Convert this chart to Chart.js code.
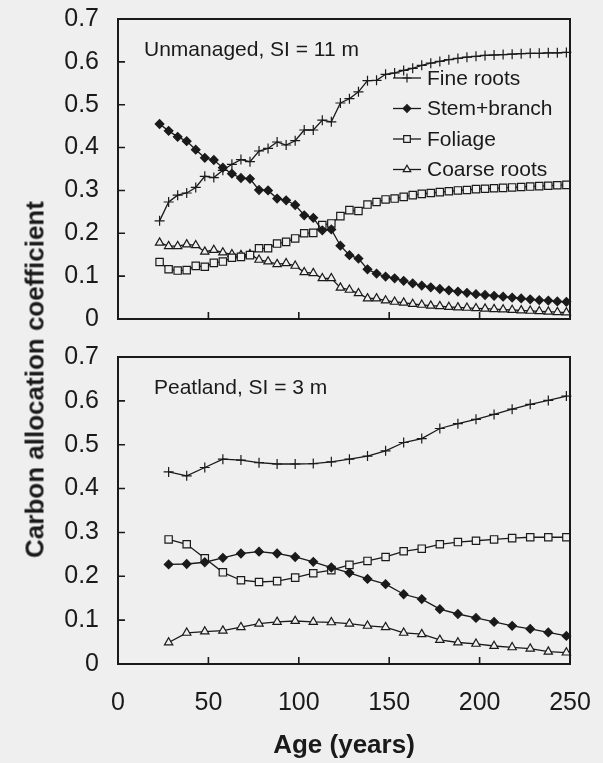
<!DOCTYPE html>
<html>
<head>
<meta charset="utf-8">
<script src="https://cdn.jsdelivr.net/npm/chart.js@4/dist/chart.umd.min.js"></script>
<style>
  body { margin: 0; background: #efefef; }
  #wrap { position: relative; width: 603px; height: 763px; }
  #top { position: absolute; left: 0; top: 0; }
  #bottom { position: absolute; left: 0; top: 340px; }
  #ytitle {
    position: absolute; left: -165px; top: 364px; width: 400px;
    text-align: center; transform: rotate(-90deg);
    font: bold 26px "Liberation Sans", Arial, sans-serif; color: #1a1a1a;
  }
</style>
</head>
<body>
<div id="wrap">
  <canvas id="top" width="603" height="340"></canvas>
  <canvas id="bottom" width="603" height="423"></canvas>
  <div id="ytitle">Carbon allocation coefficient</div>
</div>
<script>
// top panel: unmanaged, SI = 11 m (every 5 years)
const topAges = [23, 28, 33, 38, 43, 48, 53, 58, 63, 68, 73, 78, 83, 88, 93, 98, 103, 108, 113, 118, 123, 128, 133, 138, 143, 148, 153, 158, 163, 168, 173, 178, 183, 188, 193, 198, 203, 208, 213, 218, 223, 228, 233, 238, 243, 248];
const topFine = [0.229, 0.273, 0.289, 0.294, 0.307, 0.333, 0.330, 0.347, 0.361, 0.372, 0.367, 0.392, 0.398, 0.413, 0.406, 0.416, 0.441, 0.441, 0.464, 0.460, 0.504, 0.514, 0.530, 0.556, 0.557, 0.571, 0.574, 0.580, 0.585, 0.592, 0.597, 0.601, 0.605, 0.608, 0.611, 0.613, 0.615, 0.616, 0.617, 0.618, 0.619, 0.620, 0.620, 0.621, 0.621, 0.622];
const topStem = [0.455, 0.439, 0.425, 0.415, 0.395, 0.376, 0.371, 0.353, 0.339, 0.329, 0.327, 0.301, 0.300, 0.281, 0.277, 0.266, 0.242, 0.236, 0.207, 0.209, 0.171, 0.149, 0.141, 0.116, 0.106, 0.099, 0.095, 0.089, 0.083, 0.078, 0.074, 0.070, 0.067, 0.064, 0.061, 0.058, 0.056, 0.054, 0.052, 0.050, 0.048, 0.046, 0.044, 0.043, 0.041, 0.040];
const topFoliage = [0.133, 0.116, 0.113, 0.114, 0.124, 0.122, 0.131, 0.134, 0.143, 0.145, 0.149, 0.165, 0.165, 0.176, 0.180, 0.188, 0.200, 0.201, 0.219, 0.223, 0.240, 0.254, 0.252, 0.267, 0.273, 0.279, 0.281, 0.285, 0.289, 0.292, 0.294, 0.296, 0.298, 0.300, 0.301, 0.303, 0.304, 0.305, 0.306, 0.307, 0.308, 0.309, 0.310, 0.311, 0.312, 0.313];
const topCoarse = [0.178, 0.170, 0.170, 0.174, 0.172, 0.157, 0.161, 0.155, 0.151, 0.149, 0.151, 0.138, 0.134, 0.128, 0.130, 0.124, 0.109, 0.107, 0.095, 0.095, 0.073, 0.068, 0.060, 0.048, 0.048, 0.043, 0.040, 0.038, 0.035, 0.033, 0.031, 0.030, 0.028, 0.027, 0.026, 0.025, 0.024, 0.023, 0.022, 0.021, 0.020, 0.019, 0.018, 0.017, 0.016, 0.015];

// bottom panel: peatland, SI = 3 m (every 10 years)
const botAges = [28, 38, 48, 58, 68, 78, 88, 98, 108, 118, 128, 138, 148, 158, 168, 178, 188, 198, 208, 218, 228, 238, 248];
const botFine = [0.438, 0.429, 0.448, 0.467, 0.465, 0.459, 0.456, 0.456, 0.457, 0.461, 0.467, 0.474, 0.486, 0.505, 0.514, 0.537, 0.548, 0.558, 0.569, 0.581, 0.592, 0.601, 0.611];
const botStem = [0.227, 0.228, 0.232, 0.242, 0.252, 0.256, 0.252, 0.244, 0.233, 0.220, 0.208, 0.194, 0.182, 0.159, 0.148, 0.125, 0.114, 0.105, 0.096, 0.087, 0.080, 0.072, 0.064];
const botFoliage = [0.284, 0.273, 0.241, 0.209, 0.191, 0.187, 0.189, 0.197, 0.207, 0.214, 0.226, 0.235, 0.244, 0.257, 0.263, 0.273, 0.278, 0.281, 0.284, 0.287, 0.289, 0.289, 0.289];
const botCoarse = [0.049, 0.071, 0.074, 0.076, 0.084, 0.092, 0.096, 0.098, 0.096, 0.095, 0.092, 0.087, 0.084, 0.071, 0.068, 0.055, 0.049, 0.046, 0.041, 0.038, 0.035, 0.028, 0.026];

const seriesNames = ["Fine roots", "Stem+branch", "Foliage", "Coarse roots"];
const xTickMarks = [50, 100, 150, 200];
const yTickMarks = [0.1, 0.2, 0.3, 0.4, 0.5, 0.6];

const ink = '#1a1a1a';
const bg = '#efefef';
const font = '"Liberation Sans", Arial, sans-serif';

const styles = [
    { pointStyle: 'cross', pointRadius: 5, pointBackgroundColor: ink },
    { pointStyle: 'rectRot', pointRadius: 4.3, pointBackgroundColor: ink },
    { pointStyle: 'rect', pointRadius: 5.2, pointBackgroundColor: bg },
    { pointStyle: 'triangle', pointRadius: 4.8, pointBackgroundColor: bg },
];

function makeSets(ages, cols) {
    return cols.map((col, i) => Object.assign({
        label: seriesNames[i],
        data: ages.map((a, j) => ({ x: a, y: col[j] })),
        borderColor: ink,
        borderWidth: 1.3,
        pointBorderColor: ink,
        pointBorderWidth: 1.2,
        tension: 0,
        clip: false,
    }, styles[i]));
}

// box, inward ticks, panel label and in-plot legend
const framePlugin = {
    id: 'frame',
    afterDatasetsDraw(chart, args, opts) {
        const { ctx, chartArea: a } = chart;
        const x = chart.scales.x, y = chart.scales.y;
        ctx.save();
        ctx.strokeStyle = ink;
        ctx.lineWidth = 2;
        ctx.strokeRect(a.left, a.top, a.right - a.left, a.bottom - a.top);
        ctx.lineWidth = 1.6;
        ctx.beginPath();
        yTickMarks.forEach(v => {
            const py = y.getPixelForValue(v);
            ctx.moveTo(a.left, py); ctx.lineTo(a.left + 7, py);
        });
        xTickMarks.forEach(v => {
            const px = x.getPixelForValue(v);
            ctx.moveTo(px, a.bottom); ctx.lineTo(px, a.bottom - 7);
        });
        ctx.stroke();

        ctx.fillStyle = ink;
        ctx.font = '21px ' + font;
        ctx.textBaseline = 'middle';
        ctx.fillText(opts.label, a.left + opts.lx, a.top + opts.ly);

        if (opts.legend) {
            chart.data.datasets.forEach((ds, i) => {
                const ly = a.top + 59 + i * 30.5;
                const lx = a.left + 275;
                ctx.strokeStyle = ink;
                ctx.lineWidth = 1.3;
                ctx.beginPath();
                ctx.moveTo(lx, ly); ctx.lineTo(lx + 28, ly);
                ctx.stroke();
                ctx.fillStyle = ds.pointBackgroundColor;
                ctx.lineWidth = 1.2;
                Chart.helpers.drawPoint(ctx, {
                    pointStyle: ds.pointStyle, radius: ds.pointRadius - 0.5,
                    borderWidth: 1.2, rotation: 0
                }, lx + 14, ly);
                ctx.fillStyle = ink;
                ctx.fillText(ds.label, lx + 34, ly + 1);
            });
        }
        ctx.restore();
    }
};

function makeChart(id, ages, cols, isBottom, frameOpts) {
    return new Chart(id, {
        type: 'line',
        data: { datasets: makeSets(ages, cols) },
        plugins: [framePlugin],
        options: {
            responsive: false,
            animation: false,
            layout: { padding: isBottom ? { top: 17, right: 33, left: 0, bottom: 0 } : { top: 19, right: 33, left: 0, bottom: 21 } },
            plugins: {
                legend: { display: false },
                tooltip: { enabled: false },
                frame: frameOpts,
            },
            scales: {
                x: {
                    type: 'linear',
                    min: 0, max: 250,
                    display: isBottom,
                    grid: { display: false, drawTicks: false },
                    border: { display: false },
                    ticks: { stepSize: 50, color: ink, font: { size: 25, family: font }, padding: 24, maxRotation: 0 },
                    title: { display: true, text: 'Age (years)', color: ink, font: { size: 26, weight: 'bold', family: font }, padding: { top: 0, bottom: 2 } },
                    afterFit: s => {
                        if (isBottom) s.height = 99;
                        s.paddingLeft = 0;
                        s.paddingRight = 0;
                    },
                },
                y: {
                    min: 0, max: 0.7,
                    grid: { display: false, drawTicks: false },
                    border: { display: false },
                    ticks: {
                        stepSize: 0.1, color: ink, padding: 19, autoSkip: false,
                        font: { size: 25, family: font },
                        callback: v => v === 0 ? '0' : v.toFixed(1),
                    },
                    afterFit: s => {
                        s.width = 118;
                        s.paddingTop = 0;
                        s.paddingBottom = 0;
                    },
                },
            },
        },
    });
}

makeChart('top', topAges, [topFine, topStem, topFoliage, topCoarse], false,
    { label: 'Unmanaged, SI = 11 m', lx: 26, ly: 31, legend: true });
makeChart('bottom', botAges, [botFine, botStem, botFoliage, botCoarse], true,
    { label: 'Peatland, SI = 3 m', lx: 36, ly: 31, legend: false });
</script>
</body>
</html>
